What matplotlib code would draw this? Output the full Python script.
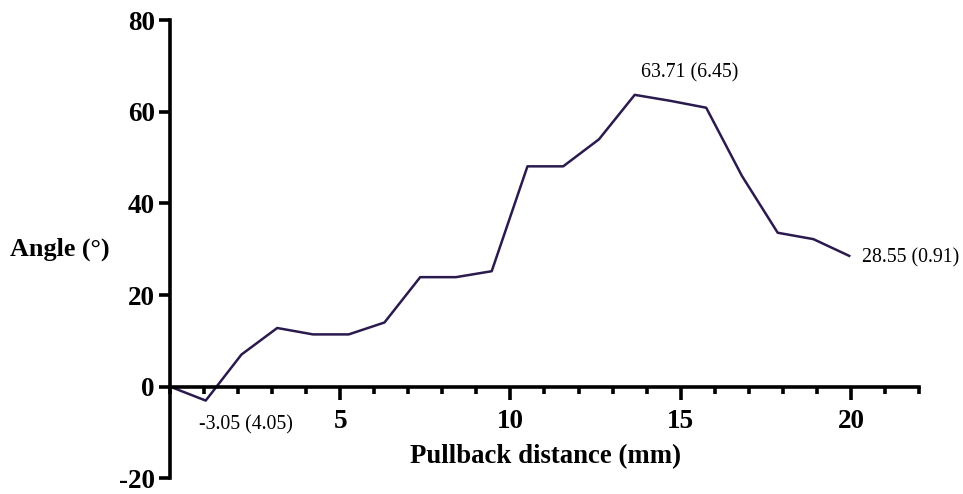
import matplotlib
matplotlib.use('Agg')
import matplotlib.pyplot as plt
from matplotlib.ticker import MultipleLocator, FixedLocator

plt.rcParams['font.family'] = ['Liberation Serif', 'DejaVu Serif']
plt.rcParams['axes.unicode_minus'] = False

# Pullback distance (mm) and mean angle (deg)
distance = [0.0, 1.05, 2.1, 3.15, 4.2, 5.25, 6.3, 7.35, 8.4, 9.45,
            10.5, 11.55, 12.6, 13.65, 14.7, 15.75, 16.8, 17.85, 18.9, 19.95]
angle = [0.0, -3.05, 7.0, 12.8, 11.4, 11.4, 14.0, 23.9, 23.9, 25.2,
         48.1, 48.1, 54.0, 63.71, 62.4, 60.9, 46.0, 33.6, 32.2, 28.55]

# annotations: text, x, y, alignment
notes = [('-3.05 (4.05)', 2.24, -8.4, 'center'),
         ('63.71 (6.45)', 15.26, 68.6, 'center'),
         ('28.55 (0.91)', 20.33, 28.1, 'left')]

line_color = '#2b1a4e'

fig = plt.figure(figsize=(9.63, 4.94), dpi=100)
ax = fig.add_axes([0.1765, 0.032, 0.7778, 0.927])

ax.plot(distance, angle, color=line_color, lw=1.8)

for txt, x, y, ha in notes:
    ax.text(x, y, txt, ha=ha, va='center', fontsize=14.3)

ax.set_xlim(0, 22)
ax.set_ylim(-20, 80)

ax.spines['top'].set_visible(False)
ax.spines['right'].set_visible(False)
ax.spines['bottom'].set_position(('data', 0))
for s in ('left', 'bottom'):
    ax.spines[s].set_linewidth(2.6)

ax.xaxis.set_major_locator(FixedLocator([5, 10, 15, 20]))
ax.xaxis.set_minor_locator(MultipleLocator(1))
ax.yaxis.set_major_locator(MultipleLocator(20))
ax.tick_params(axis='x', which='major', length=9, width=2.6, pad=7, labelsize=19.5)
ax.tick_params(axis='x', which='minor', length=5, width=2.6)
ax.tick_params(axis='y', which='major', length=8, width=2.6, pad=3, labelsize=19.5)
for lab in ax.get_xticklabels() + ax.get_yticklabels():
    lab.set_fontweight('bold')

ax.set_xlabel('Pullback distance (mm)', fontsize=19.3, fontweight='bold', va='center')
ax.xaxis.set_label_coords(0.502, 0.048)
ax.set_ylabel('Angle (°)', fontsize=18.8, fontweight='bold', rotation=0, va='center')
ax.yaxis.set_label_coords(-0.147, 0.5)

fig.savefig('out.png', dpi=100)
